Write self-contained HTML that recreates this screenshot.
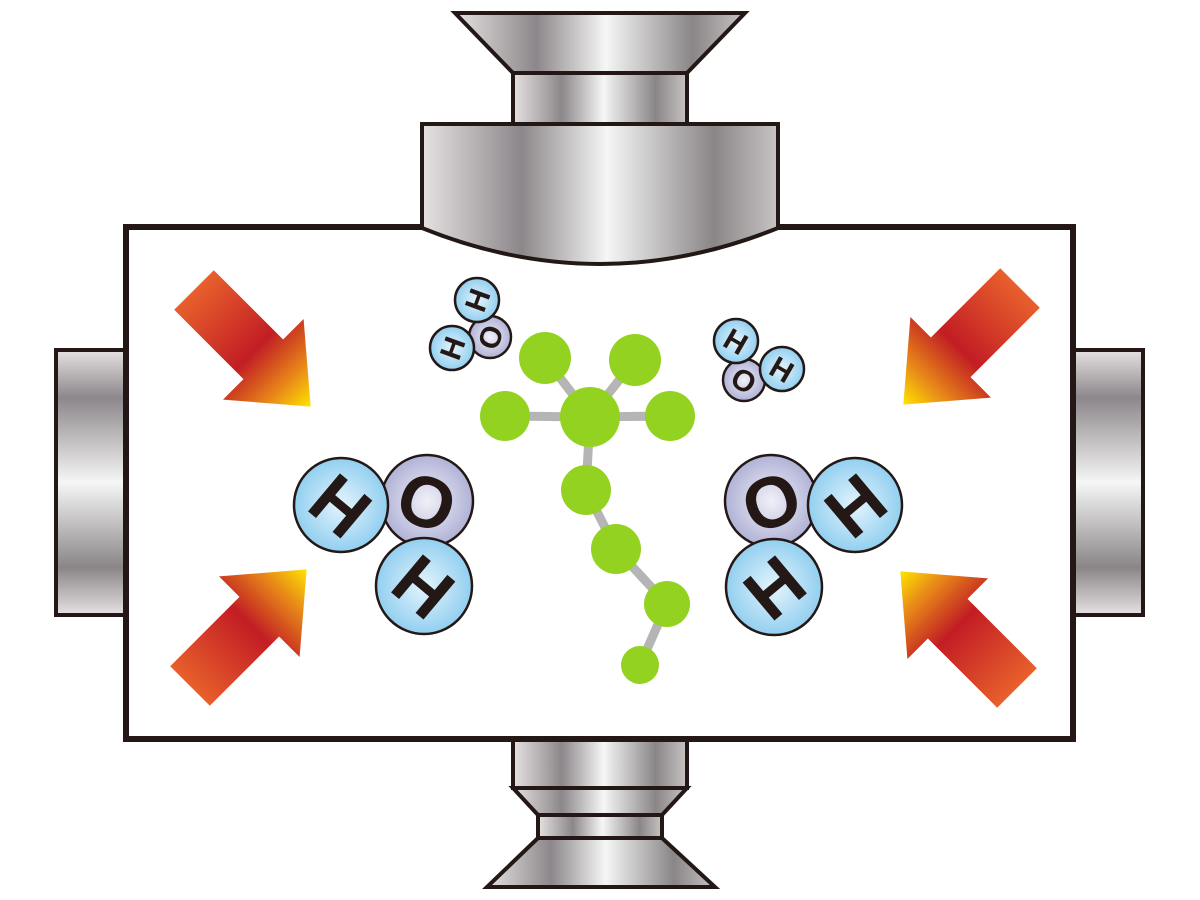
<!DOCTYPE html>
<html><head><meta charset="utf-8"><style>html,body{margin:0;padding:0;background:#fff}svg{display:block}</style></head>
<body>
<svg width="1200" height="900" viewBox="0 0 1200 900" xmlns="http://www.w3.org/2000/svg">
<defs>
<linearGradient id="mh" x1="0" y1="0" x2="1" y2="0">
<stop offset="0" stop-color="#e6e2e2"/><stop offset="0.28" stop-color="#8c878a"/><stop offset="0.52" stop-color="#f6f6f6"/><stop offset="0.82" stop-color="#8a8688"/><stop offset="1" stop-color="#c8c4c4"/>
</linearGradient>
<linearGradient id="mv" x1="0" y1="0" x2="0" y2="1">
<stop offset="0" stop-color="#e6e2e2"/><stop offset="0.18" stop-color="#8c878a"/><stop offset="0.5" stop-color="#f6f6f6"/><stop offset="0.82" stop-color="#8a8688"/><stop offset="1" stop-color="#e6e2e2"/>
</linearGradient>
<linearGradient id="ar" x1="0" y1="0" x2="165" y2="0" gradientUnits="userSpaceOnUse">
<stop offset="0" stop-color="#e8602c"/><stop offset="0.52" stop-color="#c21d24"/><stop offset="0.8" stop-color="#e88a18"/><stop offset="1" stop-color="#ffe400"/>
</linearGradient>
<radialGradient id="hg"><stop offset="0" stop-color="#e4f4fc"/><stop offset="1" stop-color="#92cff0"/></radialGradient>
<radialGradient id="og"><stop offset="0" stop-color="#f0f0f8"/><stop offset="1" stop-color="#b0b2d6"/></radialGradient>
<g id="arrow"><polygon points="0,-28 98,-28 98,-57 165,0 98,57 98,28 0,28" fill="url(#ar)"/></g>
</defs>
<g stroke="#231815" stroke-width="4" stroke-linejoin="miter">
<!-- top -->
<polygon points="455,13 745,13 687,73 513,73" fill="url(#mh)"/>
<rect x="513" y="73" width="174" height="51" fill="url(#mh)"/>
<!-- sides -->
<rect x="56" y="350" width="70" height="265" fill="url(#mv)"/>
<rect x="1073" y="350" width="70" height="265" fill="url(#mv)"/>
<!-- bottom -->
<rect x="513" y="739" width="174" height="49" fill="url(#mh)"/>
<polygon points="513,788 687,788 662,815 538,815" fill="url(#mh)"/>
<rect x="538" y="815" width="124" height="23" fill="url(#mh)"/>
<polygon points="538,838 662,838 715,887 487,887" fill="url(#mh)"/>
</g>
<rect x="126" y="227" width="947" height="512" fill="#fff" stroke="#231815" stroke-width="6"/>
<path d="M422,124 L778,124 L778,228 Q600,300 422,228 Z" fill="url(#mh)" stroke="#231815" stroke-width="4"/>
<!-- arrows -->
<use href="#arrow" transform="translate(194,290) rotate(45)"/>
<use href="#arrow" transform="translate(1020,288) rotate(135)"/>
<use href="#arrow" transform="translate(190,686) rotate(-45)"/>
<use href="#arrow" transform="translate(1017,688) rotate(-135)"/>
<!-- green molecule -->
<g stroke="#b5b5b5" stroke-width="9">
<line x1="590" y1="417" x2="545" y2="358"/><line x1="590" y1="417" x2="635" y2="360"/>
<line x1="590" y1="417" x2="505" y2="416"/><line x1="590" y1="417" x2="670" y2="416"/>
<line x1="590" y1="417" x2="586" y2="490"/><line x1="586" y1="490" x2="616" y2="549"/>
<line x1="616" y1="549" x2="667" y2="604"/><line x1="667" y1="604" x2="640" y2="665"/>
</g>
<g fill="#94d222">
<circle cx="590" cy="417" r="30"/><circle cx="545" cy="358" r="26"/><circle cx="635" cy="360" r="26"/>
<circle cx="505" cy="416" r="25"/><circle cx="670" cy="416" r="25"/><circle cx="586" cy="490" r="25"/>
<circle cx="616" cy="549" r="25"/><circle cx="667" cy="604" r="23"/><circle cx="640" cy="665" r="19"/>
</g>
<!-- water molecules -->
<g stroke="#231815" stroke-width="2.5" font-family="Liberation Sans, sans-serif" font-weight="bold" fill="#231815" text-anchor="middle">
<circle cx="427" cy="501" r="46" fill="url(#og)"/>
<circle cx="341" cy="505" r="47" fill="url(#hg)"/>
<circle cx="424" cy="586" r="48" fill="url(#hg)"/>
<circle cx="771" cy="501" r="46" fill="url(#og)"/>
<circle cx="855" cy="505" r="47" fill="url(#hg)"/>
<circle cx="774" cy="587" r="48" fill="url(#hg)"/>
<circle cx="490" cy="337" r="21" fill="url(#og)"/>
<circle cx="477" cy="300" r="22" fill="url(#hg)"/>
<circle cx="452" cy="348" r="22" fill="url(#hg)"/>
<circle cx="744" cy="380" r="21" fill="url(#og)"/>
<circle cx="736" cy="341" r="22" fill="url(#hg)"/>
<circle cx="782" cy="369" r="22" fill="url(#hg)"/>
<g stroke="none" font-size="72">
<text transform="translate(341,505) rotate(40)" y="26">H</text>
<text transform="translate(427,501) rotate(20)" y="26">O</text>
<text transform="translate(424,586) rotate(40)" y="26">H</text>
<text transform="translate(771,501) rotate(-20)" y="26">O</text>
<text transform="translate(855,505) rotate(-40)" y="26">H</text>
<text transform="translate(774,587) rotate(-40)" y="26">H</text>
</g>
<g stroke="none" font-size="30">
<text transform="translate(477,300) rotate(-70)" y="11">H</text>
<text transform="translate(490,337) rotate(-70)" y="11">O</text>
<text transform="translate(452,348) rotate(-70)" y="11">H</text>
<text transform="translate(736,341) rotate(30)" y="11">H</text>
<text transform="translate(744,380) rotate(30)" y="11">O</text>
<text transform="translate(782,369) rotate(30)" y="11">H</text>
</g>
</g>
</svg>
</body></html>
